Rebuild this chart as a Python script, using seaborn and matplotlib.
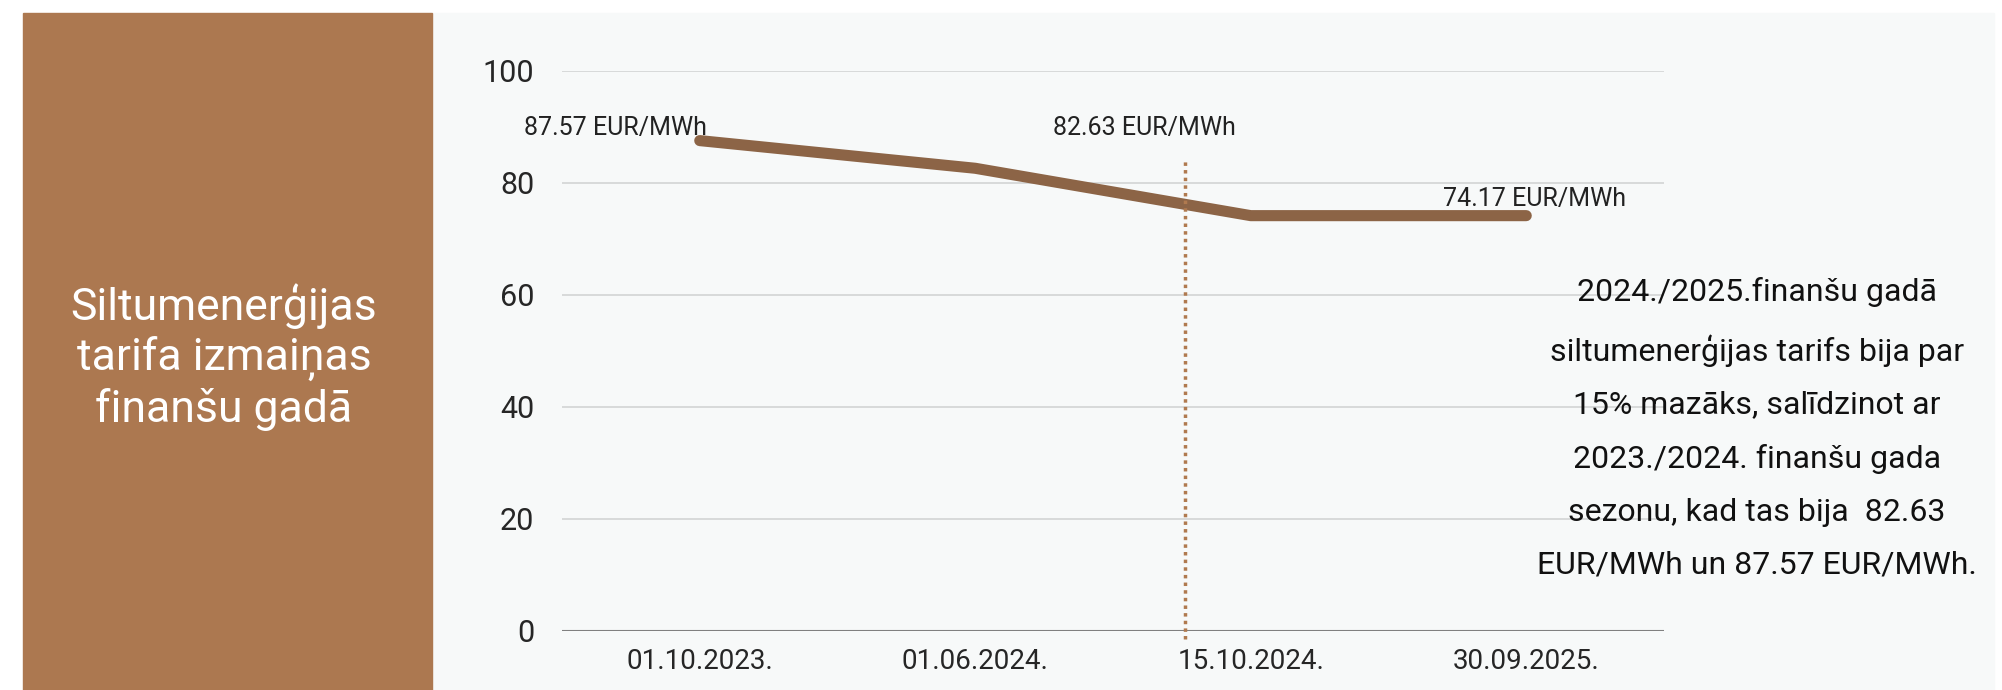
import pandas as pd
import numpy as np
import matplotlib.pyplot as plt
import seaborn as sns
from matplotlib.patches import Rectangle

# data
dates = ["01.10.2023.", "01.06.2024.", "15.10.2024.", "30.09.2025."]
tariff = [87.57, 82.63, 74.17, 74.17]
value_labels = ["87.57 EUR/MWh", "82.63 EUR/MWh", "", "74.17 EUR/MWh"]
label_points = [0, 1, 3]
y_ticks = [0, 20, 40, 60, 80, 100]
divider_x = 1.76
divider_top = 84
panel_title = "Siltumenerģijas\ntarifa izmaiņas\nfinanšu gadā"
note = ("2024./2025.finanšu gadā\nsiltumenerģijas tarifs bija par\n15% mazāks, salīdzinot ar\n"
        "2023./2024. finanšu gada\nsezonu, kad tas bija  82.63\nEUR/MWh un 87.57 EUR/MWh.")

df = pd.DataFrame({"date": dates, "tariff": tariff})

sns.set_style("white")
plt.rcParams['font.family'] = ['Roboto', 'DejaVu Sans']

line_color = "#8c6446"
brown = "#ac7850"
bg = "#f7f9f9"

fig = plt.figure(figsize=(20.02, 6.90), dpi=100)
fig.patch.set_facecolor("white")
# light background of the slide and the brown side panel
fig.patches.append(Rectangle((432/2002, 0), (1994-432)/2002, (690-13)/690,
                             transform=fig.transFigure, color=bg, zorder=-2))
fig.patches.append(Rectangle((23/2002, 0), (432-23)/2002, (690-13)/690,
                             transform=fig.transFigure, color=brown, zorder=-1))
fig.text(224/2002, 1 - 357/690, panel_title, color="white", fontsize=32,
         fontweight="normal", ha="center", va="center", linespacing=1.2)

ax = fig.add_axes([562/2002, 59/690, 1102/2002, 560/690])
ax.set_facecolor("none")
sns.lineplot(data=df, x="date", y="tariff", sort=False, color=line_color,
             linewidth=8, solid_capstyle="round", ax=ax, zorder=3)

ax.set_xlim(-0.5, 3.5)
ax.set_ylim(0, 100)
ax.set_yticks(y_ticks)
ax.grid(axis="y", color="#d2d4d4", linewidth=1.2)
ax.axhline(0, color="#808080", linewidth=1.5, zorder=2)
for s in ax.spines.values():
    s.set_visible(False)
ax.set_xlabel("")
ax.set_ylabel("")
ax.tick_params(axis="both", length=0, labelsize=22)
ax.tick_params(axis="y", pad=20)
ax.tick_params(axis="x", pad=12)
for lab in ax.get_xticklabels():
    lab.set_fontsize(20)

# dotted divider
ax.plot([divider_x, divider_x], [-1.5, divider_top], linestyle=(0, (1, 1.2)),
        color="#b07a4f", linewidth=2.5, clip_on=False, zorder=4)

offsets = {0: (-61, 9), 1: (122, 29), 3: (6, 12)}
for i in label_points:
    ax.annotate(value_labels[i], (i, tariff[i]), xytext=offsets[i],
                textcoords="offset points", ha="center", va="center",
                fontsize=18, color="#222222")

fig.text(1757/2002, 1 - 428/690, note, fontsize=23, ha="center", va="center",
         linespacing=2.03, color="#111111")

plt.savefig("out.png", dpi=100)
